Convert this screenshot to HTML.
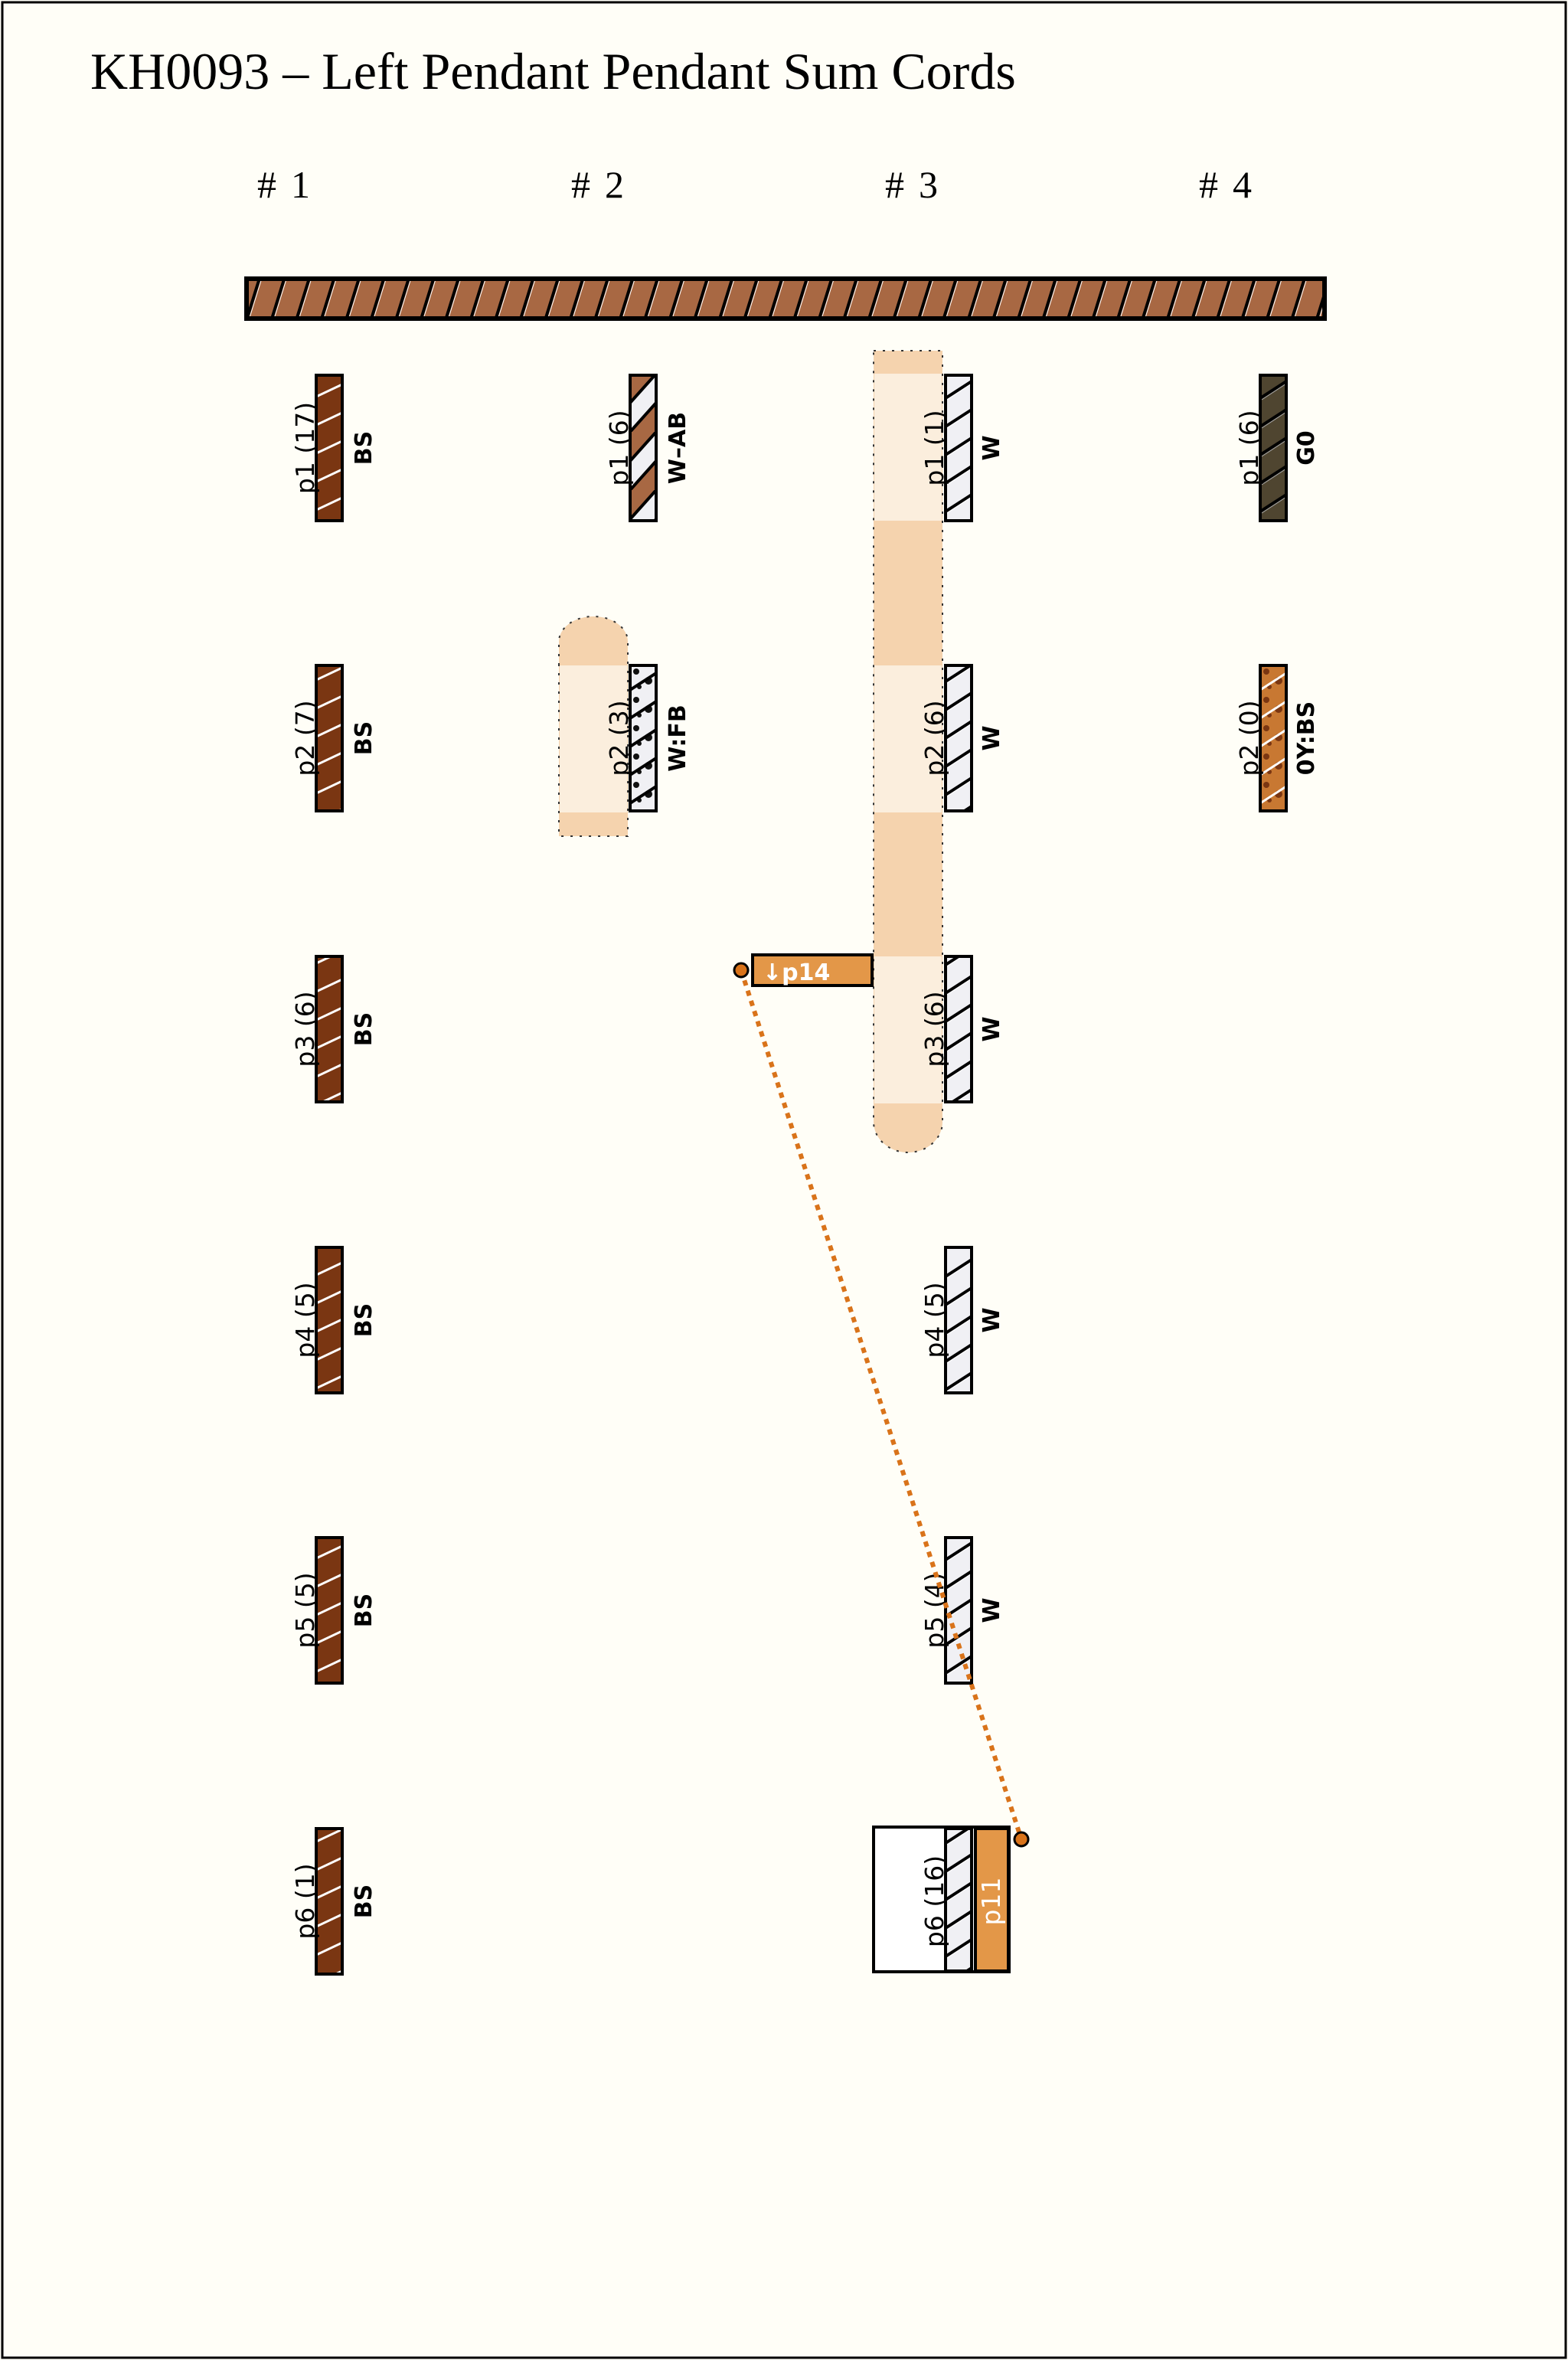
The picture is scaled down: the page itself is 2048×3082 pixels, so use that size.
<!DOCTYPE html>
<html><head><meta charset="utf-8"><style>
html,body{margin:0;padding:0;background:#fffef7;}
svg{display:block;}
.t{font-family:"DejaVu Sans","Liberation Sans",sans-serif;font-size:33px;fill:#000;}
.b{font-family:"DejaVu Sans","Liberation Sans",sans-serif;font-size:30px;font-weight:bold;fill:#000;}
.h{font-family:"Liberation Serif",serif;font-size:50px;fill:#000;}
</style></head><body>
<svg width="2048" height="3082" viewBox="0 0 2048 3082" xmlns="http://www.w3.org/2000/svg">
<defs>
<pattern id="bar" patternUnits="userSpaceOnUse" width="32.5" height="54" x="320" y="362">
<rect width="32.5" height="54" fill="#a86843"/>
<line x1="2" y1="56" x2="20" y2="-2" stroke="#000" stroke-width="4"/>
<line x1="5" y1="56" x2="23" y2="-2" stroke="#fff" stroke-width="1"/>
</pattern>
<pattern id="bs" patternUnits="userSpaceOnUse" width="34" height="37" x="413" y="488">
<rect width="34" height="37" fill="#7a3612"/>
<line x1="0" y1="30" x2="34" y2="14" stroke="#fff" stroke-width="3"/>
</pattern>
<pattern id="w" patternUnits="userSpaceOnUse" width="34" height="37" x="1235" y="488">
<rect width="34" height="37" fill="#f0f0f4"/>
<line x1="0" y1="32" x2="34" y2="10" stroke="#000" stroke-width="4"/>
<line x1="2" y1="34" x2="34" y2="13" stroke="#fff" stroke-width="1"/>
</pattern>
<pattern id="wab" patternUnits="userSpaceOnUse" width="34" height="76" x="823" y="488">
<rect width="34" height="76" fill="#a86843"/>
<polygon points="0,38 34,0 34,38 0,76" fill="#f0f0f4"/>
<line x1="0" y1="38" x2="34" y2="0" stroke="#000" stroke-width="4"/>
<line x1="0" y1="76" x2="34" y2="38" stroke="#000" stroke-width="4"/>
</pattern>
<pattern id="g0" patternUnits="userSpaceOnUse" width="34" height="37" x="1646" y="488">
<rect width="34" height="37" fill="#4f4530"/>
<line x1="0" y1="32" x2="34" y2="10" stroke="#000" stroke-width="4"/>
<line x1="2" y1="34" x2="34" y2="13" stroke="#aaa" stroke-width="1"/>
</pattern>
<pattern id="oy" patternUnits="userSpaceOnUse" width="34" height="37" x="1646" y="869">
<rect width="34" height="37" fill="#c87832"/>
<circle cx="8" cy="8" r="4" fill="#7a3612"/><circle cx="24" cy="20" r="5" fill="#7a3612"/><circle cx="12" cy="28" r="3" fill="#7a3612"/>
<line x1="0" y1="32" x2="34" y2="10" stroke="#fff" stroke-width="3"/>
</pattern>
<pattern id="fb" patternUnits="userSpaceOnUse" width="34" height="37" x="823" y="869">
<rect width="34" height="37" fill="#f0f0f4"/>
<circle cx="8" cy="8" r="4" fill="#111"/><circle cx="24" cy="20" r="5" fill="#111"/><circle cx="12" cy="28" r="3" fill="#111"/>
<line x1="0" y1="32" x2="34" y2="10" stroke="#000" stroke-width="4"/>
</pattern>
</defs>
<rect x="3" y="3" width="2042" height="3076" fill="#fffef7" stroke="#000" stroke-width="3"/>
<text x="118" y="116" font-family="Liberation Serif,serif" font-size="68">KH0093 – Left Pendant Pendant Sum Cords</text>
<text class="h" x="336" y="258">#</text><text class="h" x="380" y="258" font-size="38">1</text>
<text class="h" x="746" y="258">#</text><text class="h" x="790" y="258" font-size="38">2</text>
<text class="h" x="1156" y="258">#</text><text class="h" x="1200" y="258" font-size="38">3</text>
<text class="h" x="1566" y="258">#</text><text class="h" x="1610" y="258" font-size="38">4</text>
<rect x="322" y="364" width="1408" height="52" fill="url(#bar)" stroke="#000" stroke-width="6"/>

<path d="M730,869 V838 a45,33 0 0 1 90,0 V1092 H730 Z" fill="#f5d3ae" stroke="#333" stroke-width="2" stroke-dasharray="3,9"/>
<rect x="731" y="869" width="88" height="192" fill="#fbeedd"/>
<path d="M1141,458 H1231 V1465 a45,40 0 0 1 -90,0 Z" fill="#f5d3ae" stroke="#333" stroke-width="2" stroke-dasharray="3,9"/>
<rect x="1142" y="488" width="88" height="192" fill="#fbeedd"/>
<rect x="1142" y="869" width="88" height="192" fill="#fbeedd"/>
<rect x="1142" y="1249" width="88" height="192" fill="#fbeedd"/>

<g>
<rect x="413" y="490" width="34" height="190" fill="url(#bs)" stroke="#000" stroke-width="4"/>
<rect x="413" y="869" width="34" height="190" fill="url(#bs)" stroke="#000" stroke-width="4"/>
<rect x="413" y="1249" width="34" height="190" fill="url(#bs)" stroke="#000" stroke-width="4"/>
<rect x="413" y="1629" width="34" height="190" fill="url(#bs)" stroke="#000" stroke-width="4"/>
<rect x="413" y="2008" width="34" height="190" fill="url(#bs)" stroke="#000" stroke-width="4"/>
<rect x="413" y="2388" width="34" height="190" fill="url(#bs)" stroke="#000" stroke-width="4"/>
<text class="t" transform="translate(410,585) rotate(-90)" text-anchor="middle">p1 (17)</text>
<text class="t" transform="translate(410,964) rotate(-90)" text-anchor="middle">p2 (7)</text>
<text class="t" transform="translate(410,1344) rotate(-90)" text-anchor="middle">p3 (6)</text>
<text class="t" transform="translate(410,1724) rotate(-90)" text-anchor="middle">p4 (5)</text>
<text class="t" transform="translate(410,2103) rotate(-90)" text-anchor="middle">p5 (5)</text>
<text class="t" transform="translate(410,2483) rotate(-90)" text-anchor="middle">p6 (1)</text>
<text class="b" transform="translate(485,585) rotate(-90)" text-anchor="middle">BS</text>
<text class="b" transform="translate(485,964) rotate(-90)" text-anchor="middle">BS</text>
<text class="b" transform="translate(485,1344) rotate(-90)" text-anchor="middle">BS</text>
<text class="b" transform="translate(485,1724) rotate(-90)" text-anchor="middle">BS</text>
<text class="b" transform="translate(485,2103) rotate(-90)" text-anchor="middle">BS</text>
<text class="b" transform="translate(485,2483) rotate(-90)" text-anchor="middle">BS</text>
</g>

<rect x="823" y="490" width="34" height="190" fill="url(#wab)" stroke="#000" stroke-width="4"/>
<rect x="823" y="869" width="34" height="190" fill="url(#fb)" stroke="#000" stroke-width="4"/>
<text class="t" transform="translate(820,585) rotate(-90)" text-anchor="middle">p1 (6)</text>
<text class="t" transform="translate(820,964) rotate(-90)" text-anchor="middle">p2 (3)</text>
<text class="b" transform="translate(895,585) rotate(-90)" text-anchor="middle">W–AB</text>
<text class="b" transform="translate(895,964) rotate(-90)" text-anchor="middle">W:FB</text>

<rect x="1235" y="490" width="34" height="190" fill="url(#w)" stroke="#000" stroke-width="4"/>
<rect x="1235" y="869" width="34" height="190" fill="url(#w)" stroke="#000" stroke-width="4"/>
<rect x="1235" y="1249" width="34" height="190" fill="url(#w)" stroke="#000" stroke-width="4"/>
<rect x="1235" y="1629" width="34" height="190" fill="url(#w)" stroke="#000" stroke-width="4"/>
<rect x="1235" y="2008" width="34" height="190" fill="url(#w)" stroke="#000" stroke-width="4"/>
<text class="t" transform="translate(1232,585) rotate(-90)" text-anchor="middle">p1 (1)</text>
<text class="t" transform="translate(1232,964) rotate(-90)" text-anchor="middle">p2 (6)</text>
<text class="t" transform="translate(1232,1344) rotate(-90)" text-anchor="middle">p3 (6)</text>
<text class="t" transform="translate(1232,1724) rotate(-90)" text-anchor="middle">p4 (5)</text>
<text class="t" transform="translate(1232,2103) rotate(-90)" text-anchor="middle">p5 (4)</text>
<text class="b" transform="translate(1305,585) rotate(-90)" text-anchor="middle">W</text>
<text class="b" transform="translate(1305,964) rotate(-90)" text-anchor="middle">W</text>
<text class="b" transform="translate(1305,1344) rotate(-90)" text-anchor="middle">W</text>
<text class="b" transform="translate(1305,1724) rotate(-90)" text-anchor="middle">W</text>
<text class="b" transform="translate(1305,2103) rotate(-90)" text-anchor="middle">W</text>

<rect x="1141" y="2386" width="177" height="189" fill="#fff" stroke="#000" stroke-width="4"/>
<rect x="1235" y="2388" width="34" height="186" fill="url(#w)" stroke="#000" stroke-width="4"/>
<rect x="1274" y="2388" width="43" height="186" fill="#e39748" stroke="#000" stroke-width="4"/>
<text class="t" transform="translate(1232,2483) rotate(-90)" text-anchor="middle">p6 (16)</text>
<text class="t" transform="translate(1306,2483) rotate(-90)" text-anchor="middle" style="fill:#fff">p11</text>

<rect x="1646" y="490" width="34" height="190" fill="url(#g0)" stroke="#000" stroke-width="4"/>
<rect x="1646" y="869" width="34" height="190" fill="url(#oy)" stroke="#000" stroke-width="4"/>
<text class="t" transform="translate(1643,585) rotate(-90)" text-anchor="middle">p1 (6)</text>
<text class="t" transform="translate(1643,964) rotate(-90)" text-anchor="middle">p2 (0)</text>
<text class="b" transform="translate(1716,585) rotate(-90)" text-anchor="middle">G0</text>
<text class="b" transform="translate(1716,964) rotate(-90)" text-anchor="middle">0Y:BS</text>

<line x1="968" y1="1267" x2="1334" y2="2402" stroke="#d9731a" stroke-width="6" stroke-dasharray="7,7"/>
<rect x="983" y="1247" width="156" height="40" fill="#e39748" stroke="#000" stroke-width="4"/>
<text x="996" y="1280" font-family="DejaVu Sans,sans-serif" font-size="30" font-weight="bold" fill="#fff">↓p14</text>
<circle cx="968" cy="1267" r="9" fill="#d9731a" stroke="#000" stroke-width="3"/>
<circle cx="1334" cy="2402" r="9" fill="#d9731a" stroke="#000" stroke-width="3"/>
</svg>
</body></html>
